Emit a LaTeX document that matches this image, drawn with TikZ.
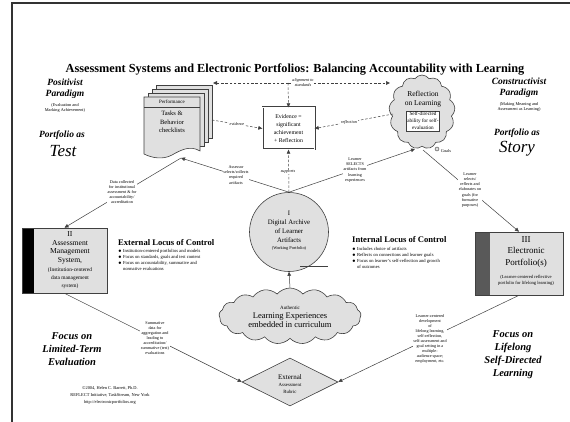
\documentclass[tikz,border=0pt]{standalone}
\usepackage{fontspec}
\setmainfont{Liberation Serif}
\usetikzlibrary{arrows.meta,shapes.geometric,shapes.symbols}
\begin{document}
\begin{tikzpicture}[x=1pt,y=-1pt,
  ln/.style={draw=black!75, line width=0.5pt},
  arr/.style={ln, -{Triangle[length=4pt,width=3.6pt]}},
  darr/.style={arr, dash pattern=on 2.5pt off 1.8pt},
  lab/.style={font=\fontsize{4.2}{5.1}\selectfont, align=center, fill=white, inner sep=0.6pt},
  ilab/.style={lab, font=\fontsize{4.2}{5.1}\selectfont\itshape},
  shp/.style={draw=black!75, fill=black!12, line width=0.6pt},
  btxt/.style={font=\fontsize{6.5}{8.5}\selectfont, align=center, inner sep=0pt},
  para/.style={font=\fontsize{9.5}{11}\selectfont\bfseries\itshape, align=center, inner sep=0pt},
  focus/.style={font=\fontsize{10.5}{13}\selectfont\bfseries\itshape, align=center, inner sep=0pt},
  sml/.style={font=\fontsize{4.3}{5}\selectfont, align=center, inner sep=0pt},
  locus/.style={font=\fontsize{8.6}{10}\selectfont\bfseries, inner sep=0pt, anchor=west},
  bul/.style={font=\fontsize{4.6}{6}\selectfont, align=left, inner sep=0pt, anchor=north west},
]
\useasboundingbox (0,0) rectangle (570,422);
\fill[white] (0,0) rectangle (570,422);
\draw[black!80, line width=1.2pt] (12,422) -- (12,3) -- (570,3);

% title
\node[font=\fontsize{12.3}{14}\selectfont\bfseries, inner sep=0pt] (title) at (295,70)
  {Assessment Systems and Electronic Portfolios: Balancing Accountability with Learning};

% paradigms
\node[para] (pos) at (65,89) {Positivist\\Paradigm};
\node[sml] (possub) at (65,108) {(Evaluation and\\Marking Achievement)};
\node[para] (ptest) at (62,135) {Portfolio as};
\node[font=\fontsize{17}{18}\selectfont\itshape, inner sep=0pt] (test) at (63,151) {Test};
\node[para] (con) at (519,88) {Constructivist\\Paradigm};
\node[sml] (consub) at (519,107) {(Making Meaning and\\Assessment as Learning)};
\node[para] (pstory) at (517,133) {Portfolio as};
\node[font=\fontsize{17}{18}\selectfont\itshape, inner sep=0pt] (story) at (517,149) {Story};

% document stack
\foreach \d in {12,8,4} \draw[shp] (144+\d,97-\d) rectangle (200+\d,150-\d);
\draw[shp] (144,97) -- (200,97) -- (200,151) .. controls (190,145) and (181,150) .. (172,155)
  .. controls (163,160) and (152,158) .. (144,154) -- cycle;
\draw[black!75, line width=0.4pt] (144,107) -- (200,107);
\node[sml, font=\fontsize{5}{6}\selectfont] (dochd) at (172,102) {Performance};
\node[btxt] (doc) at (172,122) {Tasks \&\\Behavior\\checklists};

% evidence box
\node[draw=black!75, double, double distance=1.2pt, fill=white, minimum width=52pt,
  minimum height=42pt, font=\fontsize{5.8}{8.2}\selectfont, align=center, inner sep=0pt]
  (evid) at (288.5,128.5) {Evidence =\\significant\\achievement\\+ Reflection};

% reflection cloud
\node[cloud, cloud puffs=13, cloud puff arc=110, aspect=0.9, shp, minimum width=66pt,
  minimum height=74pt] (refl) at (422,112) {};
\node[font=\fontsize{7.5}{8.5}\selectfont, align=center, inner sep=0pt] (refltx) at (423,99)
  {Reflection\\on Learning};
\node[draw=black!75, line width=0.4pt, fill=white, font=\fontsize{5.2}{7}\selectfont, align=center,
  inner sep=1pt] (reflbx) at (423,121) {Self-directed\\ability for self-\\evaluation};
\draw[shp, line width=0.4pt] (437,149) circle (2);
\node[sml] (goals) at (446,151) {Goals};

% central archive
\node[circle, shp, minimum size=79pt, inner sep=0pt] (arch) at (289,232) {};
\node[font=\fontsize{6.8}{8.8}\selectfont, align=center, inner sep=0pt] (archtx) at (289,227)
  {I\\Digital Archive\\of Learner\\Artifacts};
\node[sml] (archsub) at (289,248) {(Working Portfolio)};
\draw[ln] (300,266) -- (328,266);

% authentic learning cloud
\node[cloud, cloud puffs=17, cloud puff arc=100, aspect=2.4, shp, minimum width=142pt,
  minimum height=56pt] (auth) at (290,316) {};
\node[font=\fontsize{8.5}{9.5}\selectfont, align=center, inner sep=0pt] (authtx) at (290,320)
  {Learning Experiences\\embedded in curriculum};
\node[sml, font=\fontsize{5}{6}\selectfont] (authhd) at (290,308) {Authentic};

% diamond
\node[diamond, shp, aspect=2, minimum width=96pt, minimum height=48pt, inner sep=0pt] (dia) at (290,382) {};
\node[font=\fontsize{7}{8}\selectfont, inner sep=0pt] (diatx) at (290,377) {External};
\node[sml, font=\fontsize{4.8}{7}\selectfont] (diasub) at (290,388) {Assessment\\Rubric};

% box II
\node[shp, minimum width=85pt, minimum height=65pt, inner sep=0pt] (b2) at (64.5,260.5) {};
\fill[black] (22,228) rectangle (34,293);
\draw[black!75, line width=0.6pt] (22,228) rectangle (107,293);
\node[font=\fontsize{7.6}{8.6}\selectfont, align=center, inner sep=0pt] (b2tx) at (70,248)
  {II\\Assessment\\Management\\System,};
\node[font=\fontsize{5.4}{8}\selectfont, align=center, inner sep=0pt] (b2sub) at (70,278)
  {(Institution-centered\\data management\\system)};

% box III
\node[shp, minimum width=88pt, minimum height=63pt, inner sep=0pt] (b3) at (519,263.5) {};
\fill[black!65] (475,232) rectangle (490,295);
\draw[black!75, line width=0.6pt] (475,232) rectangle (563,295);
\node[font=\fontsize{9}{11.3}\selectfont, align=center, inner sep=0pt] (b3tx) at (526,252)
  {III\\Electronic\\Portfolio(s)};
\node[font=\fontsize{4.6}{6.5}\selectfont, align=center, inner sep=0pt] (b3sub) at (526,280.5)
  {(Learner-centered reflective\\portfolio for lifelong learning)};

% loci of control
\node[locus] (ext) at (118,243) {External Locus of Control};
\node[bul] (extb) at (118,249) {$\bullet$ Institution-centered portfolios and models\\
  $\bullet$ Focus on standards, goals and test content\\
  $\bullet$ Focus on accountability, summative and\\
  \hphantom{$\bullet$ }normative evaluations};
\node[locus] (int) at (352,240) {Internal Locus of Control};
\node[bul] (intb) at (352,247) {$\bullet$ Includes choice of artifacts\\
  $\bullet$ Reflects on connections and learner goals\\
  $\bullet$ Focus on learner's self-reflection and growth\\
  \hphantom{$\bullet$ }of outcomes};

% focus texts
\node[focus] (flim) at (72,349) {Focus on\\Limited-Term\\Evaluation};
\node[focus] (flife) at (513,355) {Focus on\\Lifelong\\Self-Directed\\Learning};

% copyright
\node[font=\fontsize{4.4}{7}\selectfont, align=center, inner sep=0pt] (copy) at (110,395)
  {\copyright2004, Helen C. Barrett, Ph.D.\\
   REFLECT Initiative, TaskStream, New York\\
   http://electronicportfolios.org};

% connector end points
\coordinate (tL) at (213,83);
\coordinate (tR) at (390,83);
\coordinate (tM) at (288,83);
\coordinate (docR) at (212,120);
\coordinate (docB) at (181,158);
\coordinate (reflL) at (393,114);
\coordinate (reflB) at (415,149);
\coordinate (reflBR) at (423,150);

% connectors
\draw[darr] (tM) -- (tL);
\draw[darr] (tM) -- (tR);
\draw[darr] (tM) -- (evid.north);
\node[ilab] (tlab) at (303,83) {alignment to\\standards};

\draw[darr] (docR) -- (evid.west);
\node[ilab] (elab) at (237,124) {evidence};
\draw[darr] (reflL) -- (evid.east);
\node[ilab] (rlab) at (349,122) {reflection};
\draw[darr] (arch.north) -- (evid.south);
\node[ilab] (slab) at (288,172) {supports};

\draw[arr] (arch.north) -- (docB);
\node[lab] (alab) at (236,175) {Assessor\\selects/collects\\required\\artifacts};
\draw[arr] (arch.north) -- (reflB);
\node[lab] (llab) at (355,170) {Learner\\SELECTS\\artifacts from\\learning\\experiences};

\draw[arr] (docB) -- (b2.north);
\node[lab] (dlab) at (122,192) {Data collected\\for institutional\\assessment \& for\\accountability/\\accreditation};
\draw[arr] (reflBR) -- (b3.north);
\node[lab] (glab) at (470,190) {Learner\\selects/\\reflects and\\elaborates on\\goals (for\\formative\\purposes)};

\draw[arr] (b2.south) -- (dia.west);
\node[lab] (slab2) at (155,338) {Summative\\data for\\aggregation and\\leading to\\accreditation/\\summative (test)\\evaluations};
\draw[arr] (b3.south) -- (dia.east);
\node[lab] (flab) at (430,339) {Learner-centered\\development\\of\\lifelong learning,\\self-reflection,\\self-assessment and\\goal setting in a\\multiple-\\audience space;\\employment, etc.};

\draw[arr] (auth.north) -- (arch.south);
\end{tikzpicture}
\end{document}
